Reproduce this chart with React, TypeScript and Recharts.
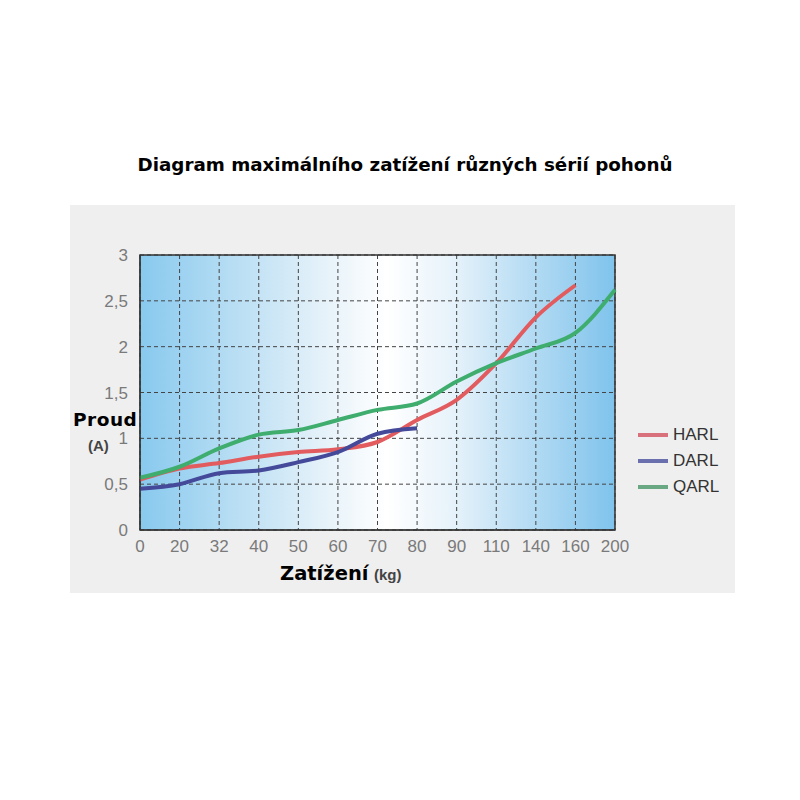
import {
  LineChart,
  Line,
  XAxis,
  YAxis,
  CartesianGrid,
  ReferenceArea,
} from 'recharts'

const loads = ['0', '20', '32', '40', '50', '60', '70', '80', '90', '110', '140', '160', '200']
const harl = [0.55, 0.67, 0.73, 0.8, 0.85, 0.88, 0.96, 1.2, 1.42, 1.82, 2.32, 2.67, null]
const darl = [0.45, 0.5, 0.62, 0.65, 0.74, 0.85, 1.05, 1.11, null, null, null, null, null]
const qarl = [0.57, 0.69, 0.89, 1.04, 1.09, 1.2, 1.31, 1.38, 1.62, 1.82, 1.98, 2.15, 2.62]
const yTicks = [0, 0.5, 1, 1.5, 2, 2.5, 3]

const series = [
  { key: 'harl', name: 'HARL', color: '#e25b5e', legend: '#d9717c' },
  { key: 'darl', name: 'DARL', color: '#44499a', legend: '#6a6fae' },
  { key: 'qarl', name: 'QARL', color: '#3ead6e', legend: '#6aa884' },
]

const data = loads.map((l, i) => ({ load: l, harl: harl[i], darl: darl[i], qarl: qarl[i] }))

const tickStyle = { fill: '#7a7a7a', fontSize: 17, fontFamily: 'Liberation Sans, Arial, sans-serif' }

function LegendBox() {
  return (
    <div style={{ position: 'absolute', left: 638, top: 422, fontFamily: 'Liberation Sans, Arial, sans-serif' }}>
      {series.map(s => (
        <div key={s.key} style={{ display: 'flex', alignItems: 'center', height: 26 }}>
          <div style={{ width: 30, height: 4, background: s.legend, marginRight: 5 }} />
          <span style={{ fontSize: 17, color: '#333' }}>{s.name}</span>
        </div>
      ))}
    </div>
  )
}

export default function App() {
  return (
    <div style={{ position: 'absolute', left: 0, top: 0, width: 800, height: 800, background: '#fff' }}>
      <div
        style={{
          position: 'absolute', left: 0, top: 154, width: 810, textAlign: 'center',
          fontFamily: 'DejaVu Sans, Verdana, sans-serif', fontWeight: 'bold', fontSize: 18.3, color: '#000',
        }}
      >
        Diagram maximálního zatížení různých sérií pohonů
      </div>
      <div style={{ position: 'absolute', left: 70, top: 205, width: 665, height: 388, background: '#efefef' }} />
      <div style={{ position: 'absolute', left: 0, top: 0 }}>
        <LineChart width={800} height={800} data={data} margin={{ top: 255, right: 185, bottom: 240, left: 80 }}>
          <defs>
            <linearGradient id="plotBg" x1="0" y1="0" x2="1" y2="0">
              <stop offset="0%" stopColor="#88c9ee" />
              <stop offset="38%" stopColor="#e4f1f9" />
              <stop offset="52%" stopColor="#ffffff" />
              <stop offset="66%" stopColor="#e6f2fa" />
              <stop offset="100%" stopColor="#7fc3ec" />
            </linearGradient>
          </defs>
          <CartesianGrid fill="url(#plotBg)" stroke="#444" strokeDasharray="4 3" strokeWidth={1} />
          <XAxis
            dataKey="load"
            height={30}
            axisLine={{ stroke: '#333' }}
            tickLine={false}
            tick={tickStyle}
            interval={0}
            tickMargin={4}
          />
          <YAxis
            width={60}
            domain={[0, 3]}
            ticks={yTicks}
            tickFormatter={(v: number) => String(v).replace('.', ',')}
            axisLine={{ stroke: '#333' }}
            tickLine={false}
            tick={tickStyle}
            tickMargin={6}
          />
          <ReferenceArea x1="0" x2="200" y1={0} y2={3} fill="none" fillOpacity={0} stroke="#333" strokeWidth={1.5} />
          {series.map(s => (
            <Line
              key={s.key}
              type="monotone"
              dataKey={s.key}
              name={s.name}
              stroke={s.color}
              strokeWidth={4}
              dot={false}
              connectNulls={false}
              isAnimationActive={false}
            />
          ))}
        </LineChart>
      </div>
      <LegendBox />
      <div
        style={{
          position: 'absolute', left: 73, top: 410, lineHeight: '20px', letterSpacing: 0.5,
          fontFamily: 'DejaVu Sans, Verdana, sans-serif', fontWeight: 'bold', fontSize: 18.5, color: '#000',
        }}
      >
        Proud
      </div>
      <div style={{ position: 'absolute', left: 88, top: 437, fontFamily: 'Liberation Sans, Arial, sans-serif', fontWeight: 'bold', fontSize: 15, color: '#444' }}>
        (A)
      </div>
      <div style={{ position: 'absolute', left: 280, top: 562, fontFamily: 'DejaVu Sans, Verdana, sans-serif', fontWeight: 'bold', fontSize: 19.5, color: '#000' }}>
        Zatížení
      </div>
      <div style={{ position: 'absolute', left: 374, top: 566, fontFamily: 'Liberation Sans, Arial, sans-serif', fontWeight: 'bold', fontSize: 15, color: '#444' }}>
        (kg)
      </div>
    </div>
  )
}
